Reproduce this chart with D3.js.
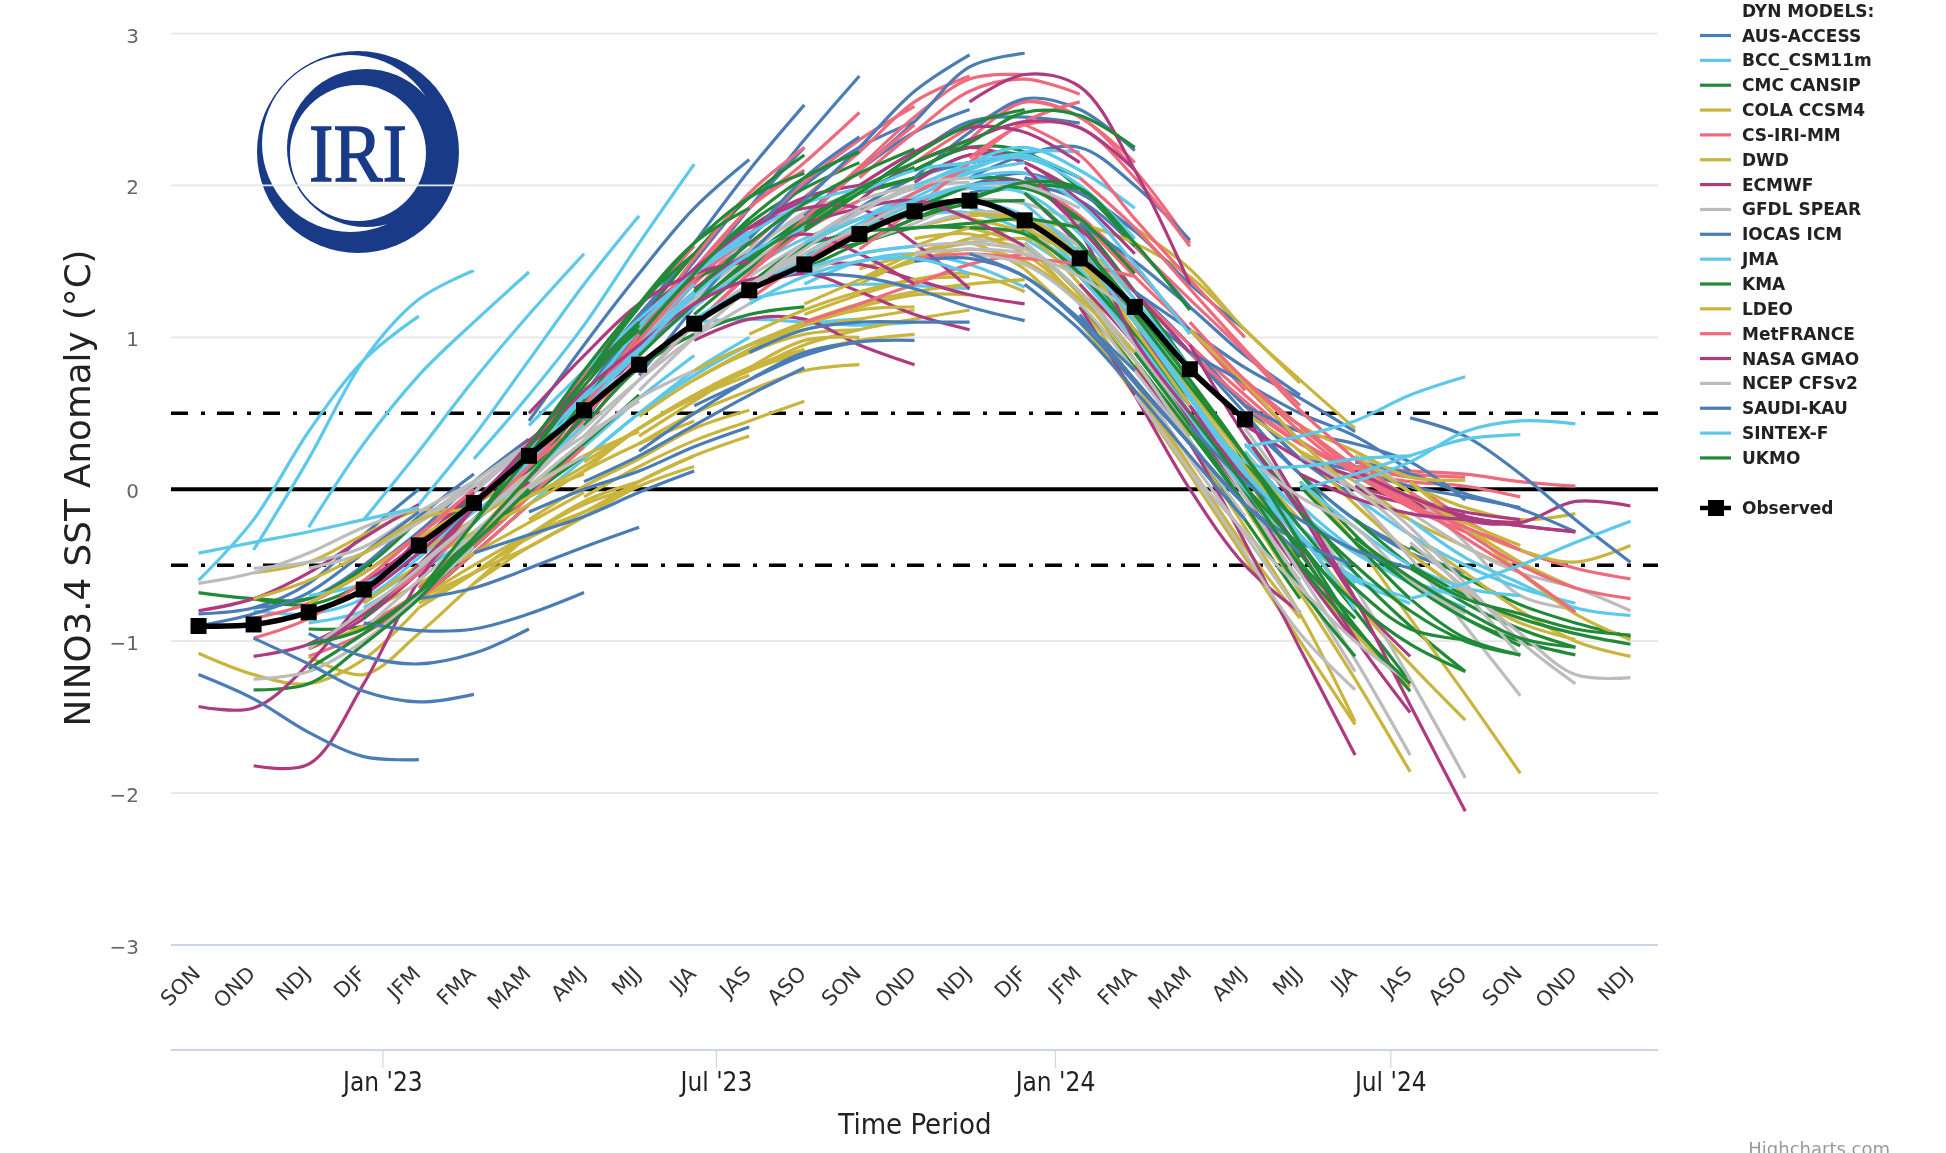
<!DOCTYPE html>
<html><head><meta charset="utf-8">
<script src="https://cdnjs.cloudflare.com/ajax/libs/d3/7.8.5/d3.min.js"></script>
<style>html,body{margin:0;padding:0;background:#fff;overflow:hidden}svg{display:block;filter:blur(.55px)}text{font-family:"DejaVu Sans",sans-serif}</style>
</head><body><svg id="c" width="1946" height="1153"></svg>
<script>
// Each run: [first season index, five seasonal values]
const seasons=["SON","OND","NDJ","DJF","JFM","FMA","MAM","AMJ","MJJ","JJA","JAS","ASO","SON","OND","NDJ","DJF","JFM","FMA","MAM","AMJ","MJJ","JJA","JAS","ASO","SON","OND","NDJ"];
const yTicks=[3,2,1,0,-1,-2,-3];
const observed=[-.9,-.89,-.81,-.66,-.37,-.09,.22,.52,.82,1.09,1.31,1.48,1.68,1.83,1.9,1.77,1.52,1.2,.79,.46];
const modelNames=["AUS-ACCESS","BCC_CSM11m","CMC CANSIP","COLA CCSM4","CS-IRI-MM","DWD","ECMWF","GFDL SPEAR","IOCAS ICM","JMA","KMA","LDEO","MetFRANCE","NASA GMAO","NCEP CFSv2","SAUDI-KAU","SINTEX-F","UKMO"];
const modelColors=["#4a7db5","#5cc8ea","#218a37","#c9b53e","#ee6a7c","#c9b53e","#ae3a80","#bcbcbc","#4a7db5","#5cc8ea","#218a37","#c9b53e","#ee6a7c","#ae3a80","#bcbcbc","#4a7db5","#5cc8ea","#218a37"];
const monthTicks=[[2023,0,"Jan '23"],[2023,6,"Jul '23"],[2024,0,"Jan '24"],[2024,6,"Jul '24"]];

const AUS_ACCESS=[[0,-.82,-.78,-.62,-.3,0],[1,-.78,-.72,-.5,-.18,.1],[2,-.72,-.55,-.28,.05,.33],[3,-.62,-.35,-.02,.3,.62],[4,-.45,-.1,.25,.6,.95],[5,-.1,.3,.72,1.15,1.55],[6,.2,.62,1.05,1.5,1.95],[7,.45,.92,1.4,1.85,2.25],[8,.95,1.4,1.85,2.3,2.72],[9,1.3,1.65,2,2.25,2.42],[10,1.5,1.8,2.1,2.35,2.5],[11,1.6,1.85,2.05,2.15,2.2],[12,1.85,2.05,2.15,2.18,2.05],[13,1.85,2,2.08,1.95,1.7],[14,1.95,2,1.9,1.6,1.2],[15,1.8,1.6,1.3,.9,.5],[16,1.55,1.3,.95,.55,.2],[17,1.2,.9,.55,.2,-.05],[18,.8,.45,.1,-.2,-.4],[19,.5,.1,-.2,-.42,-.55]];
const BCC_CSM11m=[[1,-.8,-.82,-.72,-.45,-.12],[2,-.88,-.8,-.55,-.22,.08],[3,-.75,-.5,-.2,.12,.42],[4,-.55,-.3,-.02,.28,.6],[5,-.3,0,.3,.6,.88],[6,-.1,.2,.5,.78,1],[7,.2,.5,.75,.95,1.08],[8,.5,.75,.95,1.08,1.12],[9,1.1,1.12,1.1,1.08,1.1],[10,1.25,1.32,1.35,1.34,1.32],[11,1.35,1.5,1.55,1.48,1.33],[12,1.72,1.8,1.82,1.7,1.45],[13,1.85,1.9,1.8,1.55,1.2],[14,1.85,1.75,1.5,1.1,.7],[15,1.65,1.4,1,.55,.15],[16,1.4,1.05,.65,.2,-.15],[17,1,.6,.15,-.25,-.55],[18,.55,.12,-.3,-.6,-.75],[19,.3,-.1,-.4,-.62,-.78]];
const CMC_CANSIP=[[0,-.68,-.72,-.72,-.52,-.2],[1,-.72,-.76,-.62,-.35,-.05],[2,-.92,-.9,-.72,-.42,-.1],[3,-.9,-.7,-.38,-.05,.22],[4,-.7,-.38,-.02,.3,.62],[5,-.2,.2,.62,1.02,1.38],[6,.1,.55,1,1.42,1.78],[7,.62,1.1,1.55,1.92,2.2],[8,1.02,1.42,1.75,1.98,2.15],[9,1.2,1.52,1.78,1.95,2.05],[10,1.35,1.6,1.78,1.88,1.9],[11,1.55,1.62,1.72,1.72,1.7],[12,1.95,2.05,2.2,2.2,2.05],[13,2.1,2.25,2.22,1.98,1.6],[14,2.05,2.02,1.75,1.3,.8],[15,1.72,1.42,1,.5,.02],[16,1.5,1.02,.5,-.02,-.45],[17,1.05,.55,.02,-.48,-.85],[18,.72,.18,-.35,-.8,-1.27],[19,.35,-.12,-.55,-.9,-1.2],[20,.1,-.3,-.62,-.85,-1.03],[21,-.2,-.5,-.75,-.92,-1.04],[22,-.38,-.58,-.76,-.88,-.97]];
const COLA_CCSM4=[[0,-1.08,-1.22,-1.28,-1.12,-.78],[1,-.55,-.48,-.3,-.14,-.15],[2,-1.05,-.9,-.72,-.55,-.38],[3,-.92,-.72,-.5,-.3,-.15],[4,-.75,-.55,-.3,-.1,.02],[5,-.62,-.38,-.18,.02,.15],[6,-.38,-.18,.05,.22,.35],[7,-.05,.15,.32,.45,.58],[8,.3,.5,.65,.78,.82],[9,.6,.78,.9,.98,1.02],[10,.78,.95,1.05,1.12,1.18],[11,1.1,1.22,1.3,1.35,1.38],[12,1.35,1.52,1.65,1.72,1.75],[13,1.6,1.72,1.78,1.6,1.3],[14,1.72,1.6,1.28,.8,.3],[15,1.45,1.1,.62,.1,-.38],[16,1.1,.65,.15,-.38,-.85],[17,.82,.3,-.25,-.82,-1.53],[18,.42,-.12,-.68,-1.25,-1.86],[19,.15,-.3,-.75,-1.15,-1.52],[20,.05,-.35,-.85,-1.35,-1.87],[21,-.1,-.42,-.68,-.88,-.99],[22,-.3,-.55,-.8,-1,-1.1]];
const CS_IRI_MM=[[1,-.85,-.75,-.55,-.3,-.02],[2,-1.1,-.95,-.72,-.42,-.1],[3,-.9,-.68,-.38,-.05,.28],[4,-.65,-.3,.08,.48,.82],[5,-.32,.08,.5,.9,1.25],[6,.05,.5,.95,1.35,1.7],[7,.4,.88,1.4,1.85,2.1],[8,1.02,1.45,1.85,2.15,2.48],[9,1.3,1.68,2.02,2.3,2.52],[10,1.6,1.92,2.22,2.55,2.72],[11,1.8,2.12,2.45,2.7,2.73],[12,2.05,2.35,2.62,2.7,2.6],[13,2.15,2.38,2.55,2.45,2.15],[14,2.3,2.55,2.45,2.1,1.62],[15,2.05,1.8,1.45,1.05,.65],[16,1.78,1.4,1.05,.68,.32],[17,1.3,.95,.62,.32,.12],[18,.9,.58,.3,.15,.08],[19,.55,.3,.15,.1,.08],[20,.3,.12,.05,.02,-.05],[21,.15,.12,.1,.05,.02],[22,.05,-.2,-.4,-.52,-.59]];
const DWD=[[2,-1.1,-1.22,-.95,-.62,-.3],[3,-.82,-.62,-.42,-.22,-.02],[4,-.78,-.55,-.3,-.08,.05],[5,-.55,-.32,-.15,.05,.22],[6,-.05,.15,.4,.6,.75],[7,.12,.4,.62,.78,.92],[8,.48,.72,.9,1.02,1.05],[9,.78,.95,1.05,1.12,1.18],[10,.95,1.1,1.2,1.28,1.28],[11,1.15,1.28,1.38,1.42,1.3],[12,1.45,1.55,1.62,1.65,1.58],[13,1.72,1.8,1.78,1.55,1.2],[14,1.78,1.68,1.35,.85,.35],[15,1.62,1.22,.7,.15,-.45],[16,1.75,1.62,1.4,1.05,.7],[17,.72,.1,-.45,-1,-1.55],[18,.62,.1,-.5,-.95,-1.3],[19,.5,.25,-.1,-.42,-.68],[20,.25,.05,-.2,-.38,-.55],[21,.12,.02,-.12,-.2,-.16],[22,-.05,-.25,-.4,-.48,-.37]];
const ECMWF=[[0,-.8,-.72,-.55,-.32,-.1],[1,-1.1,-1.02,-.82,-.52,-.22],[2,-1.05,-.85,-.55,-.2,.12],[3,-.62,-.35,-.02,.32,.6],[4,-.58,-.2,.18,.55,.92],[5,-.32,.05,.5,.9,1.28],[6,.28,.72,1.12,1.45,1.72],[7,.6,1.02,1.42,1.72,1.9],[8,1.02,1.4,1.72,1.92,2],[9,.98,1.12,1.12,.95,.82],[10,1.32,1.42,1.3,1.15,1.05],[11,1.48,1.48,1.38,1.28,1.22],[12,1.9,2.15,2.25,2.15,1.95],[13,2.02,2.2,2.15,1.9,1.55],[14,2,2.02,1.72,1.3,.9],[15,1.95,1.6,1.1,.55,.05],[16,1.35,.95,.45,-.05,-.55],[17,1,.5,.02,-.52,-1],[18,.5,.08,-.4,-.98,-1.47],[19,.42,.2,0,-.1,-.17],[20,.2,.08,-.06,-.15,-.2],[21,.02,-.08,-.18,-.24,-.28],[22,-.02,-.2,-.22,-.08,-.11]];
const GFDL_SPEAR=[[0,-.62,-.55,-.42,-.25,-.12],[1,-.52,-.48,-.38,-.15,.05],[2,-.52,-.42,-.22,.02,.25],[3,-.42,-.2,.05,.3,.5],[4,-.2,.02,.3,.58,.82],[5,-.02,.3,.62,.95,1.22],[6,.3,.72,1.08,1.4,1.62],[7,.62,.98,1.3,1.58,1.8],[8,.95,1.25,1.55,1.82,1.95],[9,1.2,1.48,1.72,1.9,2],[10,1.4,1.62,1.82,1.98,2.02],[11,1.5,1.7,1.88,1.98,1.98],[12,1.62,1.75,1.9,1.88,1.75],[13,1.72,1.82,1.8,1.6,1.25],[14,1.65,1.58,1.3,.9,.4],[15,1.75,1.4,.95,.42,-.1],[16,1.3,.9,.4,-.1,-.6],[17,.92,.48,-.05,-.62,-1.2],[18,.5,.02,-.55,-1.12,-1.75],[19,.4,-.1,-.65,-1.25,-1.9],[20,.32,-.05,-.45,-.9,-1.36],[21,.25,-.02,-.35,-.7,-.79],[22,-.15,-.38,-.55,-.65,-.8]];
const IOCAS_ICM=[[0,-.9,-.82,-.68,-.42,-.15],[6,.45,.95,1.42,1.85,2.17],[7,.62,1.12,1.62,2.1,2.53],[8,.75,1.2,1.65,2.05,2.32],[10,1.55,1.9,2.25,2.62,2.86],[11,1.8,2.1,2.42,2.78,2.87],[12,1.95,2.2,2.42,2.45,2.41],[13,2.05,2.35,2.57,2.5,2.23],[14,2.05,2.2,2.25,2,1.64],[15,2.05,1.95,1.7,1.35,1.05],[16,1.75,1.5,1.2,.88,.62],[17,1.3,1.05,.8,.6,.38],[18,.9,.7,.5,.35,.12],[19,.55,.38,.3,.18,-.07],[20,.2,.12,.02,-.05,-.12],[21,.18,.1,-.03,-.13,-.28],[22,.47,.35,.1,-.2,-.48]];
const JMA=[[2,-.7,-.62,-.42,-.15,.1],[3,-.78,-.55,-.22,.1,.42],[4,-.55,-.2,.18,.55,.9],[5,-.2,.18,.6,1,1.35],[6,.25,.62,1.05,1.42,1.7],[7,.55,.95,1.3,1.55,1.72],[8,.9,1.2,1.45,1.65,1.78],[9,1.12,1.32,1.52,1.7,1.85],[10,1.3,1.52,1.72,1.88,2],[11,1.55,1.75,1.92,2.08,2.15],[12,1.78,1.95,2.1,2.22,2.22],[13,1.98,2.15,2.25,2.1,1.85],[14,2.05,2.08,1.88,1.48,1.02],[15,1.78,1.45,1,.5,.02],[16,1.4,.98,.48,0,-.38],[17,1.12,.6,.1,-.32,-.62],[18,.62,.1,-.32,-.58,-.72],[19,.25,-.15,-.42,-.6,-.72],[20,.05,-.25,-.5,-.65,-.7],[21,-.05,-.3,-.5,-.65,-.75],[22,-.2,-.45,-.62,-.78,-.83]];
const KMA=[[1,-1.32,-1.28,-1.02,-.7,-.32],[2,-1.18,-.95,-.68,-.3,0],[3,-.85,-.5,-.12,.22,.5],[4,-.52,-.12,.3,.72,1.05],[5,-.22,.22,.68,1.08,1.42],[6,.12,.58,1,1.38,1.52],[7,.42,.8,1.02,1.15,1.2],[8,.88,1.22,1.5,1.78,1.98],[9,1.15,1.45,1.72,1.95,2.12],[10,1.35,1.6,1.7,1.85,2],[11,1.45,1.62,1.78,1.88,1.9],[12,1.62,1.78,1.92,2,1.98],[13,1.78,1.92,1.98,1.78,1.42],[14,1.72,1.68,1.42,1.02,.6],[15,1.62,1.3,.85,.38,-.1],[16,1.22,.8,.32,-.2,-.72],[17,.9,.42,-.1,-.65,-1.1],[18,.6,.1,-.42,-.9,-1.33],[19,.2,-.25,-.65,-.92,-.99],[20,.02,-.35,-.72,-.98,-1.09],[21,-.35,-.62,-.85,-1,-1.09],[22,-.5,-.7,-.85,-.95,-1.02]];
const LDEO=[[1,-.72,-.6,-.42,-.2,-.12],[2,-.75,-.55,-.32,-.1,.1],[3,-.75,-.5,-.28,-.05,.1],[4,-.42,-.2,.02,.22,.38],[5,-.28,-.1,.12,.3,.45],[6,-.2,.02,.2,.4,.52],[7,.18,.4,.62,.8,.92],[8,.35,.58,.8,.98,1],[9,.72,.92,1.08,1.18,1.2],[10,1.02,1.18,1.3,1.38,1.4],[11,1.22,1.38,1.55,1.62,1.45],[12,1.38,1.5,1.58,1.5,1.25],[13,1.65,1.68,1.55,1.25,.9],[14,1.82,1.75,1.5,1.05,.55],[15,1.72,1.5,1.12,.62,.15],[16,1.48,1.1,.65,.2,-.2],[17,1.72,1.45,1.05,.72,.4],[18,1.05,.7,.32,0,-.2],[19,.72,.42,.25,.08,.06],[20,.4,.15,-.05,-.22,-.37],[21,.22,-.02,-.25,-.48,-.65],[22,.05,-.25,-.55,-.82,-.99]];
const MetFRANCE=[[1,-.98,-.85,-.6,-.3,0],[3,-.8,-.55,-.2,.15,.45],[5,-.12,.28,.75,1.2,1.6],[6,.15,.55,.98,1.38,1.65],[7,.55,1.02,1.52,1.95,2.25],[8,.72,1.08,1.42,1.7,1.9],[9,1.08,1.42,1.78,2.1,2.4],[10,1.25,1.5,1.72,1.95,2.12],[11,1.1,1.22,1.35,1.48,1.55],[12,1.58,1.85,2.15,2.42,2.55],[13,1.52,1.55,1.52,1.48,1.4],[14,2.18,2.4,2.38,2.05,1.6],[15,2.4,2.2,1.78,1.38,1],[16,2.05,1.72,1.32,.92,.55],[17,1.6,1.25,.9,.52,.2],[18,1.1,.72,.42,.15,-.1],[19,.72,.38,.1,-.12,-.28],[20,.42,.12,-.1,-.25,-.4],[21,.2,-.08,-.32,-.55,-.81],[22,-.02,-.28,-.5,-.65,-.72]];
const NASA_GMAO=[[0,-1.43,-1.44,-1.15,-.72,-.32],[1,-1.82,-1.81,-1.28,-.6,-.12],[2,-1.02,-.82,-.5,-.12,.22],[3,-.7,-.42,-.08,.28,.65],[5,-.12,.3,.72,1.1,1.4],[6,.5,.88,1.22,1.42,1.5],[7,.65,.95,1.22,1.38,1.42],[9,1.32,1.55,1.68,1.55,1.35],[10,1.72,1.85,1.85,1.62,1.32],[11,1.75,1.85,1.9,1.78,1.6],[12,2,2.22,2.38,2.35,2.15],[13,2.15,2.3,2.42,2.38,2.1],[14,2.55,2.73,2.65,2.1,1.35],[15,2.12,1.7,.98,.5,.05],[16,1.2,.62,0,-.5,-.81],[17,.8,.3,-.35,-1.05,-1.75],[18,.95,.35,-.15,-.72,-1.1],[19,.5,-.1,-.72,-1.42,-2.12],[20,.1,-.06,-.16,-.2,-.22],[21,.12,-.05,-.18,-.24,-.28]];
const NCEP_CFSv2=[[1,-1.25,-1.2,-1,-.7,-.38],[2,-1.05,-.8,-.52,-.2,.08],[3,-.92,-.6,-.3,0,.22],[4,-.5,-.2,.1,.35,.58],[5,-.28,.02,.32,.6,.78],[6,.05,.4,.72,1,1.22],[7,.35,.72,1.08,1.35,1.52],[8,.65,1,1.32,1.55,1.72],[9,1.02,1.32,1.62,1.85,1.98],[10,1.32,1.58,1.82,2,2.05],[11,1.42,1.55,1.6,1.62,1.58],[12,1.72,1.9,2,2,1.85],[13,1.55,1.58,1.55,1.4,1.15],[14,1.55,1.48,1.22,.78,.3],[15,1.62,1.3,.85,.32,-.18],[16,1.12,.72,.2,-.3,-.82],[17,.62,.12,-.42,-.95,-1.32],[18,.12,-.28,-.65,-1,-1.27],[19,.22,-.05,-.25,-.6,-.82],[20,.22,0,-.3,-.68,-1.1],[21,.05,-.25,-.62,-1,-1.28],[22,-.35,-.65,-.95,-1.22,-1.24]];
const SAUDI_KAU=[[0,-1.22,-1.38,-1.6,-1.76,-1.78],[1,-.98,-1.15,-1.33,-1.4,-1.35],[2,-.95,-1.1,-1.15,-1.08,-.92],[3,-.88,-.93,-.92,-.82,-.68],[4,-.72,-.65,-.52,-.38,-.25],[5,-.42,-.3,-.18,-.02,.12],[6,-.15,0,.12,.28,.41],[7,.05,.22,.42,.62,.8],[8,.25,.5,.72,.9,.97],[9,.55,.72,.88,.97,.98],[10,.9,1.05,1.1,1.1,1.1],[11,1.42,1.4,1.32,1.2,1.11],[13,1.5,1.52,1.4,1.12,.78],[14,1.55,1.4,1.1,.7,.3],[15,1.35,1.05,.65,.22,-.2],[16,1.15,.72,.3,-.1,-.42],[17,.72,.3,-.1,-.35,-.5],[18,.42,.05,-.2,-.4,-.52]];
const SINTEX_F=[[0,-.42,-.35,-.28,-.2,-.12],[0,-.6,-.2,.38,.85,1.14],[1,-.4,.2,.85,1.25,1.44],[2,-.25,.3,.75,1.1,1.43],[3,-.2,.25,.72,1.15,1.55],[4,-.1,.35,.85,1.35,1.8],[5,.2,.62,1.08,1.62,2.14],[6,.42,.78,1.12,1.42,1.65],[7,.6,.92,1.28,1.55,1.72],[8,1.08,1.42,1.68,1.88,1.98],[9,1.12,1.32,1.45,1.55,1.6],[10,1.22,1.4,1.5,1.52,1.42],[11,1.62,1.78,1.9,2,2.02],[12,1.95,2.1,2.15,2.2,2.05],[13,2,2.12,2.18,2,1.65],[14,1.98,1.95,1.68,1.25,.8],[15,1.88,1.55,1.1,.6,.12],[16,1.6,1.15,.6,.1,-.25],[17,1.15,.62,.12,-.3,-.79],[18,.62,.18,.15,.2,.22],[19,.28,.35,.45,.62,.74],[20,0,.1,.22,.33,.36],[21,.05,.18,.38,.45,.43],[22,-.72,-.62,-.5,-.35,-.21]];
const UKMO=[[2,-1.02,-.92,-.68,-.35,0],[3,-1.02,-.72,-.32,.08,.48],[4,-.68,-.22,.22,.72,1.1],[5,-.22,.28,.78,1.22,1.55],[6,.22,.72,1.22,1.62,1.85],[7,.72,1.2,1.62,1.92,2.08],[8,1.02,1.42,1.78,2.05,2.22],[9,1.3,1.62,1.88,2.08,2.24],[10,1.52,1.75,1.98,2.15,2.3],[11,1.7,1.95,2.2,2.4,2.5],[12,1.7,1.72,1.75,1.78,1.72],[13,2.1,2.28,2.48,2.46,2.25],[14,1.9,2.02,1.98,1.62,1.18],[15,1.95,1.62,1.15,.68,.22],[16,1.62,1.2,.72,.22,-.25],[17,1.18,.72,.22,-.35,-.92],[18,.5,.02,-.5,-.92,-1.28],[19,.02,-.38,-.75,-1.02,-1.2],[20,-.15,-.5,-.8,-1,-1.09],[21,-.32,-.58,-.8,-.98,-1.04],[22,-.52,-.72,-.82,-.92,-.96]];
const modelRuns=[AUS_ACCESS,BCC_CSM11m,CMC_CANSIP,COLA_CCSM4,CS_IRI_MM,DWD,ECMWF,GFDL_SPEAR,IOCAS_ICM,JMA,KMA,LDEO,MetFRANCE,NASA_GMAO,NCEP_CFSv2,SAUDI_KAU,SINTEX_F,UKMO];

const svg=d3.select("#c");
const x=d3.scaleLinear().domain([-.5,26.5]).range([171,1658]);
const y=d3.scaleLinear().domain([-3,3]).range([945,33.5]);
const t=d3.scaleTime().domain([new Date(2022,8,8),new Date(2024,10,23)]).range([171,1658]);

// Logo
const logo=svg.append("g"),navy="#183a87";
[[358,152,101,navy],[350.5,143.5,88.5,"#fff"],[366,148,79,navy],[358,153,68,"#fff"]].forEach(c=>logo.append("circle").attr("cx",c[0]).attr("cy",c[1]).attr("r",c[2]).attr("fill",c[3]));
logo.append("text").attr("x",358).attr("y",181).attr("text-anchor","middle").attr("textLength",98).attr("lengthAdjust","spacingAndGlyphs").attr("fill",navy).attr("stroke",navy).attr("stroke-width",1.4).style("font-family","'Liberation Serif',serif").style("font-size","82px").text("IRI");

// Grid and y axis
const grid=svg.append("g");
yTicks.forEach(v=>{
  grid.append("line").attr("x1",171).attr("x2",1658).attr("y1",y(v)).attr("y2",y(v)).attr("stroke",v===-3?"#ccd6eb":"#e6e6e6").attr("stroke-width",v===-3?2:1.6);
  grid.append("text").attr("x",139).attr("y",y(v)+9).attr("text-anchor","end").attr("fill","#666").style("font-size","20px").text(String(v).replace("-","\u2212"));
});
const line=d3.line().x(d=>x(d[0])).y(d=>y(d[1])).curve(d3.curveCatmullRom.alpha(.5));

// Zero and ±0.5 lines sit under the forecasts
const refs=svg.append("g");
refs.append("line").attr("x1",171).attr("x2",1658).attr("y1",y(0)).attr("y2",y(0)).attr("stroke","#000").attr("stroke-width",4);
[.5,-.5].forEach(v=>refs.append("line").attr("x1",171).attr("x2",1658).attr("y1",y(v)).attr("y2",y(v)).attr("stroke","#000").attr("stroke-width",3.4).attr("stroke-dasharray","17,13,4,12"));

// Forecast runs
const runs=svg.append("g").attr("fill","none").attr("stroke-linecap","butt").attr("stroke-width",3.2);
modelRuns.forEach((rs,m)=>{
  runs.selectAll(null).data(rs).enter().append("path")
    .attr("stroke",modelColors[m])
    .attr("d",r=>line(r.slice(1).map((v,i)=>[r[0]+i,v])));
});

// Observed
const obs=observed.map((v,i)=>[i,v]);
svg.append("path").attr("d",line(obs)).attr("fill","none").attr("stroke","#000").attr("stroke-width",5.5);
svg.selectAll(null).data(obs).enter().append("rect").attr("x",d=>x(d[0])-8).attr("y",d=>y(d[1])-8).attr("width",16).attr("height",16).attr("fill","#000");

// Category labels
seasons.forEach((s,i)=>{
  const px=x(i)+3,py=975;
  svg.append("text").attr("transform",`translate(${px},${py}) rotate(-45)`).attr("text-anchor","end").attr("fill","#333").style("font-size","21px").text(s);
});

// Time axis
svg.append("line").attr("x1",171).attr("x2",1658).attr("y1",1050).attr("y2",1050).attr("stroke","#ccd6eb").attr("stroke-width",2);
monthTicks.forEach(m=>{
  const px=t(new Date(m[0],m[1],1));
  svg.append("line").attr("x1",px).attr("x2",px).attr("y1",1050).attr("y2",1068).attr("stroke","#ccd6eb").attr("stroke-width",1.2);
  svg.append("text").attr("x",px).attr("y",1091).attr("text-anchor","middle").attr("fill","#222").style("font-family","'DejaVu Sans Condensed','DejaVu Sans'").style("font-size","26px").text(m[2]);
});
svg.append("text").attr("x",915).attr("y",1134).attr("text-anchor","middle").attr("fill","#222").style("font-family","'DejaVu Sans Condensed','DejaVu Sans'").style("font-size","29px").text("Time Period");
svg.append("text").attr("transform","translate(90,488) rotate(-90)").attr("text-anchor","middle").attr("fill","#222").style("font-size","35.7px").text("NINO3.4 SST Anomaly (\u00b0C)");
svg.append("text").attr("x",1890).attr("y",1155).attr("text-anchor","end").attr("fill","#999").style("font-size","18px").text("Highcharts.com");

// Legend
const lg=svg.append("g").style("font-size","17px").style("font-weight","600").attr("fill","#222");
lg.append("text").attr("x",1742).attr("y",17).text("DYN MODELS:");
modelNames.forEach((n,i)=>{
  const ly=35.5+i*24.85;
  lg.append("line").attr("x1",1700).attr("x2",1731).attr("y1",ly).attr("y2",ly).attr("stroke",modelColors[i]).attr("stroke-width",3.2);
  lg.append("text").attr("x",1742).attr("y",ly+6).text(n);
});
lg.append("line").attr("x1",1700).attr("x2",1731).attr("y1",508).attr("y2",508).attr("stroke","#000").attr("stroke-width",4.5);
lg.append("rect").attr("x",1708).attr("y",500).attr("width",16).attr("height",16).attr("fill","#000");
lg.append("text").attr("x",1742).attr("y",514).text("Observed");
</script></body></html>
